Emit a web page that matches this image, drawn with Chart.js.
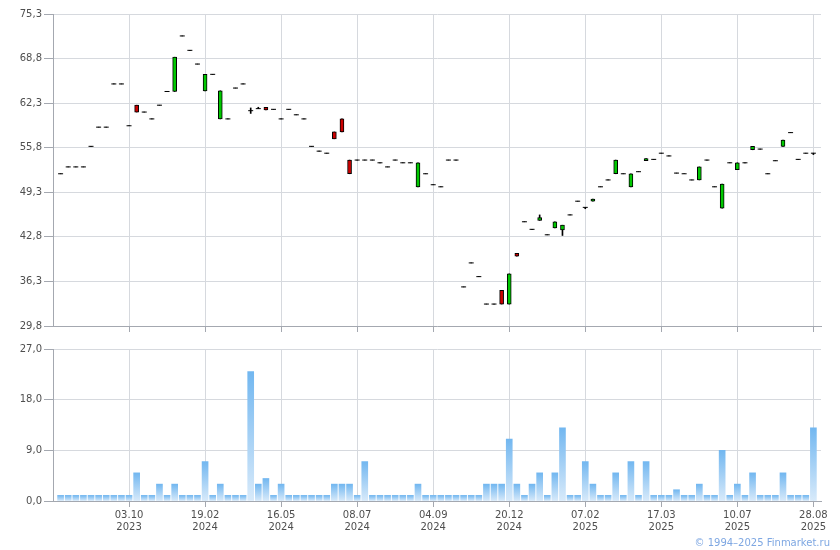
<!DOCTYPE html>
<html>
<head>
<meta charset="utf-8">
<script src="https://cdn.jsdelivr.net/npm/chart.js@4.4.0/dist/chart.umd.min.js"></script>
<style>
  body { margin: 0; background: #fff; }
  #wrap { position: relative; width: 840px; height: 550px; }
  #c1 { position: absolute; left: 0; top: 0; }
  #c2 { position: absolute; left: 0; top: 340px; }
  #copy { position: absolute; right: 10px; top: 537px; font: 10px "DejaVu Sans"; color: #7ea7e2; }
</style>
</head>
<body>
<div id="wrap">
  <canvas id="c1" width="840" height="340"></canvas>
  <canvas id="c2" width="840" height="210"></canvas>
  <div id="copy">© 1994–2025 Finmarket.ru</div>
</div>
<script>
// weekly candles, index 0..99
const opens = [52.0,53.0,53.0,53.0,56.0,58.8,58.8,65.1,65.1,59.0,
  62.0,61.0,60.0,62.0,64.0,64.0,72.1,70.0,68.0,64.1,
  66.5,60.0,60.0,64.5,65.1,61.2,61.5,61.7,61.4,60.0,
  61.4,60.6,60.0,56.0,55.3,55.0,58.1,60.0,54.0,54.0,
  54.0,54.0,53.6,53.0,54.0,53.6,53.6,50.1,52.0,50.4,
  50.1,54.0,54.0,35.5,39.0,37.0,33.0,33.0,35.0,33.0,
  40.4,45.0,43.9,45.2,43.1,44.1,43.8,46.0,48.0,47.1,
  48.0,50.1,51.1,52.0,52.0,50.1,52.3,53.9,54.1,55.0,
  54.6,52.1,52.0,51.1,51.1,54.0,50.1,47.0,53.6,52.6,
  53.6,55.5,55.6,52.0,53.9,56.0,58.0,54.1,55.0,55.0];
const closes = [52.0,53.0,53.0,53.0,56.0,58.8,58.8,65.1,65.1,59.0,
  61.0,61.0,60.0,62.0,64.0,69.0,72.1,70.0,68.0,66.5,
  66.5,64.1,60.0,64.5,65.1,61.2,61.5,61.3,61.4,60.0,
  61.4,60.6,60.0,56.0,55.3,55.0,57.1,58.1,52.0,54.0,
  54.0,54.0,53.6,53.0,54.0,53.6,53.6,53.6,52.0,50.4,
  50.1,54.0,54.0,35.5,39.0,37.0,33.0,33.0,33.0,37.4,
  40.0,45.0,43.9,45.6,43.1,45.0,44.5,46.0,48.0,47.1,
  48.3,50.1,51.1,54.0,52.0,52.0,52.3,54.2,54.1,55.0,
  54.6,52.1,52.0,51.1,53.0,54.0,50.1,50.5,53.6,53.6,
  53.6,56.0,55.6,52.0,53.9,56.9,58.0,54.1,55.0,55.0];
const highs = [52.0,53.0,53.0,53.0,56.0,58.8,58.8,65.1,65.1,59.0,
  62.0,61.0,60.0,62.0,64.0,69.0,72.1,70.0,68.0,66.5,
  66.5,64.1,60.0,64.5,65.1,61.6,61.7,61.7,61.4,60.0,
  61.4,60.6,60.0,56.0,55.3,55.0,58.1,60.0,54.0,54.0,
  54.0,54.0,53.6,53.0,54.0,53.6,53.6,53.6,52.0,50.4,
  50.1,54.0,54.0,35.5,39.0,37.0,33.0,33.0,35.0,37.4,
  40.4,45.0,43.9,46.0,43.1,45.0,44.5,46.0,48.0,47.1,
  48.3,50.1,51.1,54.0,52.0,52.0,52.3,54.2,54.1,55.0,
  54.6,52.1,52.0,51.1,53.0,54.0,50.1,50.5,53.6,53.6,
  53.6,56.0,55.6,52.0,53.9,56.9,58.0,54.1,55.0,55.0];
const lows = [52.0,53.0,53.0,53.0,56.0,58.8,58.8,65.1,65.1,59.0,
  61.0,61.0,60.0,62.0,64.0,64.0,72.1,70.0,68.0,64.1,
  66.5,60.0,60.0,64.5,65.1,60.8,61.5,61.3,61.4,60.0,
  61.4,60.6,60.0,56.0,55.3,55.0,57.1,58.1,52.0,54.0,
  54.0,54.0,53.6,53.0,54.0,53.6,53.6,50.1,52.0,50.4,
  50.1,54.0,54.0,35.5,39.0,37.0,33.0,33.0,33.0,33.0,
  40.0,45.0,43.9,45.2,43.1,44.1,43.0,46.0,48.0,46.9,
  48.0,50.1,51.1,52.0,52.0,50.1,52.3,53.9,54.1,55.0,
  54.6,52.1,52.0,51.1,51.1,54.0,50.1,47.0,53.6,52.6,
  53.6,55.5,55.6,52.0,53.9,56.0,58.0,54.1,55.0,54.8];
const volumes = [1,1,1,1,1,1,1,1,1,1, 5,1,1,3,1,3,1,1,1,7,
  1,3,1,1,1,23,3,4,1,3, 1,1,1,1,1,1,3,3,3,1,
  7,1,1,1,1,1,1,3,1,1, 1,1,1,1,1,1,3,3,3,11,
  3,1,3,5,1,5,13,1,1,7, 3,1,1,5,1,7,1,7,1,1,
  1,2,1,1,3,1,1,9,1,3, 1,5,1,1,1,5,1,1,1,13];

const dateIdx = [9,19,29,39,49,59,69,79,89,99];
const dateLabels = [['03.10','2023'],['19.02','2024'],['16.05','2024'],['08.07','2024'],['04.09','2024'],
  ['20.12','2024'],['07.02','2025'],['17.03','2025'],['10.07','2025'],['28.08','2025']];
const priceTicks = [29.8,36.3,42.8,49.3,55.8,62.3,68.8,75.3];
const volTicks = [0,9,18,27];

const AXIS = '#a4a8b0', GRID = '#d6d9de', TXT = '#4f4f4f';
const FONT = { family: 'DejaVu Sans', size: 10, lineHeight: 1.2 };
const fmt = v => v.toFixed(1).replace('.', ',');

function xScale(showLabels, h) {
  return {
    type: 'linear', min: -1, max: 100, offset: false,
    afterBuildTicks: s => { s.ticks = dateIdx.map(v => ({ value: v })); },
    afterFit: s => { s.height = h; },
    grid: { color: GRID, tickColor: AXIS, tickLength: 6, offset: false },
    border: { color: AXIS },
    ticks: { display: showLabels, padding: 2, color: TXT, font: FONT, maxRotation: 0, autoSkip: false,
      callback: (v, i) => dateLabels[i] }
  };
}
function yScale(list, min, max) {
  return {
    min: min, max: max,
    afterBuildTicks: s => { s.ticks = list.map(v => ({ value: v })); },
    afterFit: s => { s.width = 53; },
    grid: { color: GRID, tickColor: AXIS, tickLength: 9 },
    border: { color: AXIS },
    ticks: { padding: 2, color: TXT, font: FONT, callback: v => fmt(v) }
  };
}

const idx = opens.map((o, i) => i);
const flats = idx.filter(i => opens[i] === closes[i]).map(i => ({ x: i, y: opens[i] }));
const bodies = idx.filter(i => opens[i] !== closes[i]).map(i => ({ x: i, y: [opens[i], closes[i]] }));
const wicks = idx.map(i => ({ x: i, y: [lows[i], highs[i]] }));

new Chart(document.getElementById('c1'), {
  type: 'bar',
  data: {
    datasets: [
      { type: 'scatter', data: flats, pointStyle: 'line', pointRadius: 2.5, pointHoverRadius: 2.5,
        borderColor: '#000', borderWidth: 1, order: 0 },
      { data: bodies, barThickness: 4, grouped: false, order: 1,
        backgroundColor: c => (c.raw && c.raw.y[1] < c.raw.y[0]) ? '#cc0000' : '#00c800',
        borderColor: '#000', borderWidth: 1, borderSkipped: false },
      { data: wicks, barThickness: 1, grouped: false, order: 2, backgroundColor: '#000' }
    ]
  },
  options: {
    responsive: false, animation: false, events: [],
    layout: { padding: { top: 14, right: 19, left: 0, bottom: 0 } },
    plugins: { legend: { display: false }, tooltip: { enabled: false } },
    scales: { x: xScale(false, 14), y: yScale(priceTicks, 29.8, 75.3) }
  }
});

function volFill(c) {
  const ys = c.chart.scales.y;
  if (!ys || !c.raw) return '#a6d2f6';
  const t = ys.getPixelForValue(c.raw.y), b = ys.getPixelForValue(0);
  if (!isFinite(t) || !isFinite(b) || t === b) return '#a6d2f6';
  const g = c.chart.ctx.createLinearGradient(0, t, 0, b);
  g.addColorStop(0, '#72b7f0');
  g.addColorStop(1, '#d8eafa');
  return g;
}

new Chart(document.getElementById('c2'), {
  type: 'bar',
  data: { datasets: [{ data: volumes.map((v, i) => ({ x: i, y: v })), barThickness: 6, backgroundColor: volFill }] },
  options: {
    responsive: false, animation: false, events: [],
    layout: { padding: { top: 9, right: 19, left: 0, bottom: 0 } },
    plugins: { legend: { display: false }, tooltip: { enabled: false } },
    scales: { x: xScale(true, 49), y: yScale(volTicks, 0, 27) }
  }
});
</script>
</body>
</html>
